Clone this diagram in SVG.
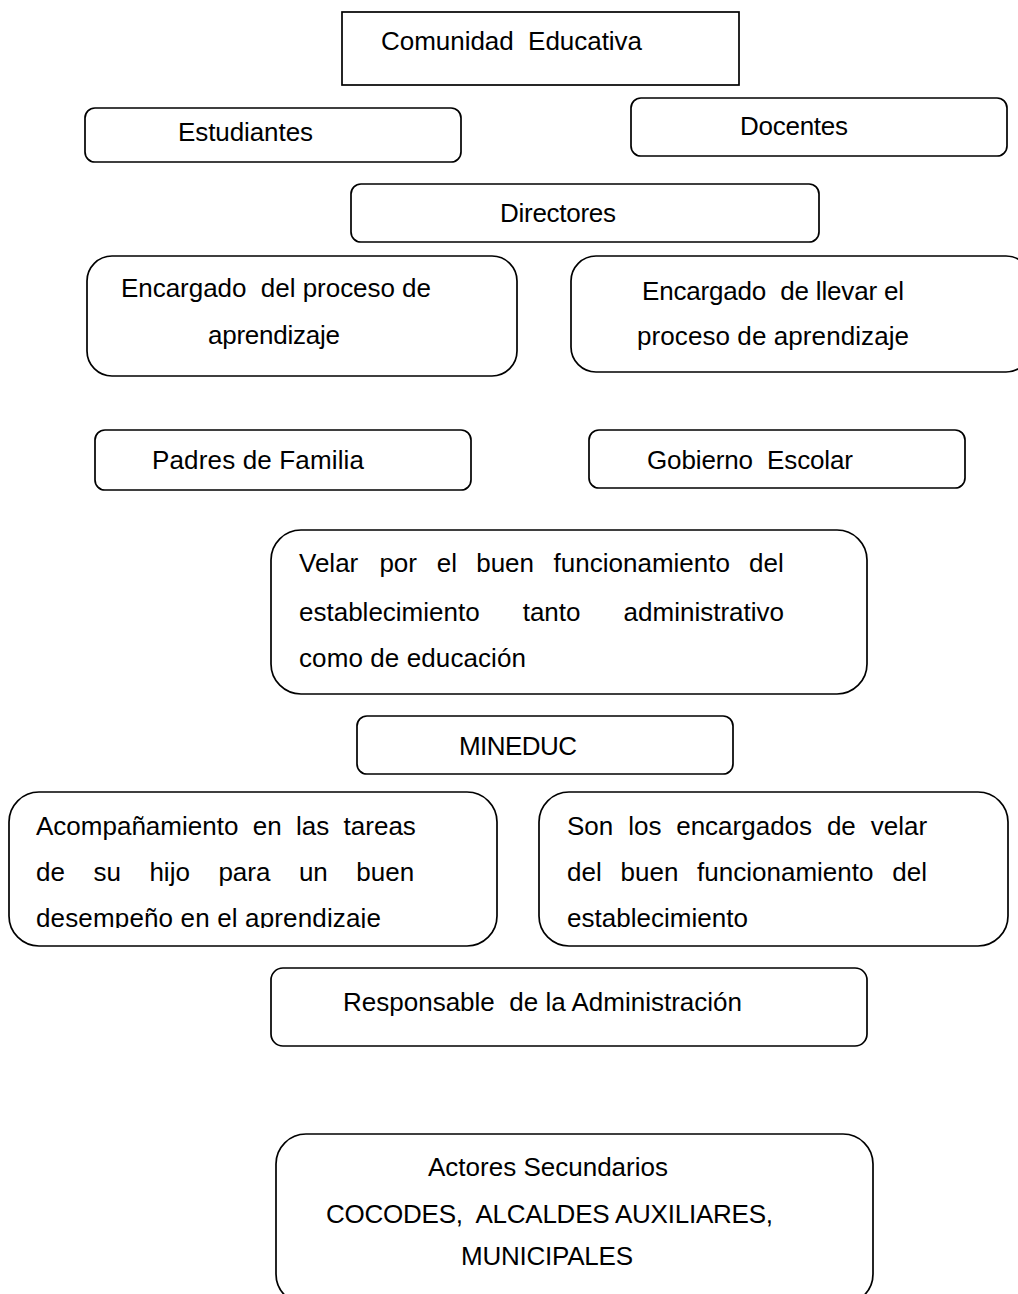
<svg xmlns="http://www.w3.org/2000/svg" width="1018" height="1294" viewBox="0 0 1018 1294">
<style>
  .box { fill: #ffffff; stroke: #000000; stroke-width: 1.7; }
  .t { font-family: "Liberation Sans", Arial, sans-serif; font-size: 26px; fill: #000000; white-space: pre; }
</style>
<defs>
  <clipPath id="clipAcomp"><rect x="0" y="780" width="510" height="148"/></clipPath>
</defs>
<rect x="0" y="0" width="1018" height="1294" fill="#ffffff"/>
<g id="connectors"></g>

<g id="n-comunidad">
  <rect class="box" x="342" y="12" width="397" height="73"/>
  <text class="t" x="381" y="50" xml:space="preserve" textLength="261" lengthAdjust="spacing">Comunidad  Educativa</text>
</g>

<g id="n-estudiantes">
  <rect class="box" x="85" y="108" width="376" height="54" rx="10"/>
  <text class="t" x="178" y="141" textLength="135" lengthAdjust="spacing">Estudiantes</text>
</g>

<g id="n-docentes">
  <rect class="box" x="631" y="98" width="376" height="58" rx="10"/>
  <text class="t" x="740" y="135" textLength="108" lengthAdjust="spacing">Docentes</text>
</g>

<g id="n-directores">
  <rect class="box" x="351" y="184" width="468" height="58" rx="10"/>
  <text class="t" x="500" y="222" textLength="116" lengthAdjust="spacing">Directores</text>
</g>

<g id="n-encargado-proceso">
  <rect class="box" x="87" y="256" width="430" height="120" rx="25"/>
  <text class="t" x="121" y="297" xml:space="preserve" textLength="310" lengthAdjust="spacing">Encargado  del proceso de</text>
  <text class="t" x="208" y="344" textLength="132" lengthAdjust="spacing">aprendizaje</text>
</g>

<g id="n-encargado-llevar">
  <rect class="box" x="571" y="256" width="460" height="116" rx="25"/>
  <text class="t" x="642" y="300" xml:space="preserve" textLength="262" lengthAdjust="spacing">Encargado  de llevar el</text>
  <text class="t" x="637" y="345" textLength="272" lengthAdjust="spacing">proceso de aprendizaje</text>
</g>

<g id="n-padres">
  <rect class="box" x="95" y="430" width="376" height="60" rx="10"/>
  <text class="t" x="152" y="469" textLength="212" lengthAdjust="spacing">Padres de Familia</text>
</g>

<g id="n-gobierno">
  <rect class="box" x="589" y="430" width="376" height="58" rx="10"/>
  <text class="t" x="647" y="469" xml:space="preserve" textLength="206" lengthAdjust="spacing">Gobierno  Escolar</text>
</g>

<g id="n-velar">
  <rect class="box" x="271" y="530" width="596" height="164" rx="30"/>
  <text class="t" y="572"><tspan x="299">Velar</tspan><tspan x="379.4">por</tspan><tspan x="436.8">el</tspan><tspan x="476.2">buen</tspan><tspan x="553.6">funcionamiento</tspan><tspan x="749">del</tspan></text>
  <text class="t" y="621"><tspan x="299">establecimiento</tspan><tspan x="522.7">tanto</tspan><tspan x="623.6">administrativo</tspan></text>
  <text class="t" x="299" y="667" textLength="227" lengthAdjust="spacing">como de educación</text>
</g>

<g id="n-mineduc">
  <rect class="box" x="357" y="716" width="376" height="58" rx="10"/>
  <text class="t" x="459" y="755" textLength="118" lengthAdjust="spacing">MINEDUC</text>
</g>

<g id="n-acompanamiento">
  <rect class="box" x="9" y="792" width="488" height="154" rx="30"/>
  <text class="t" y="835"><tspan x="36">Acompañamiento</tspan><tspan x="252.7">en</tspan><tspan x="296">las</tspan><tspan x="343.6">tareas</tspan></text>
  <text class="t" y="881"><tspan x="36">de</tspan><tspan x="93.4">su</tspan><tspan x="149.4">hijo</tspan><tspan x="218.4">para</tspan><tspan x="298.9">un</tspan><tspan x="356.3">buen</tspan></text>
  <text class="t" x="36" y="927" textLength="345" lengthAdjust="spacing" clip-path="url(#clipAcomp)">desempeño en el aprendizaje</text>
</g>

<g id="n-son-encargados">
  <rect class="box" x="539" y="792" width="469" height="154" rx="30"/>
  <text class="t" y="835"><tspan x="567">Son</tspan><tspan x="628.2">los</tspan><tspan x="676.2">encargados</tspan><tspan x="826.9">de</tspan><tspan x="870.7">velar</tspan></text>
  <text class="t" y="881"><tspan x="567">del</tspan><tspan x="620.5">buen</tspan><tspan x="697.1">funcionamiento</tspan><tspan x="892.3">del</tspan></text>
  <text class="t" x="567" y="927" textLength="181" lengthAdjust="spacing">establecimiento</text>
</g>

<g id="n-responsable">
  <rect class="box" x="271" y="968" width="596" height="78" rx="12"/>
  <text class="t" x="343" y="1011" xml:space="preserve" textLength="399" lengthAdjust="spacing">Responsable  de la Administración</text>
</g>

<g id="n-actores">
  <rect class="box" x="276" y="1134" width="597" height="170" rx="30"/>
  <text class="t" x="428" y="1176" textLength="240" lengthAdjust="spacing">Actores Secundarios</text>
  <text class="t" x="326" y="1223" xml:space="preserve" textLength="447" lengthAdjust="spacing">COCODES,  ALCALDES AUXILIARES,</text>
  <text class="t" x="461" y="1265" textLength="172" lengthAdjust="spacing">MUNICIPALES</text>
</g>
</svg>
